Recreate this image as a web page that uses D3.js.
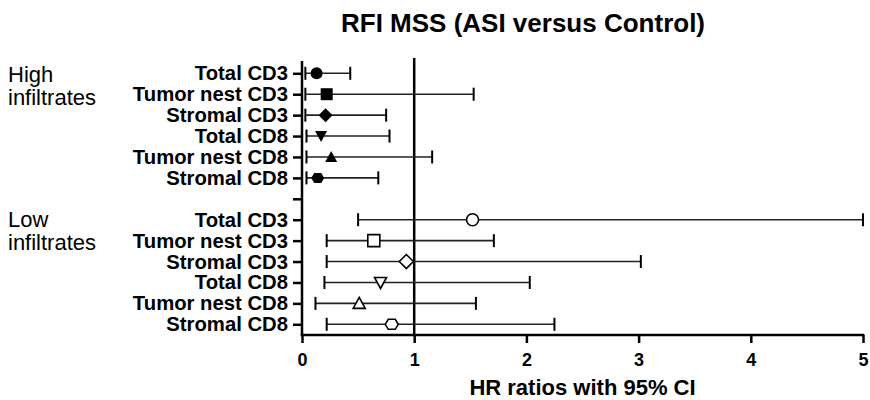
<!DOCTYPE html>
<html>
<head>
<meta charset="utf-8">
<script src="https://cdn.jsdelivr.net/npm/d3@7"></script>
<style>
  body { margin: 0; background: #fff; }
  svg { font-family: "Liberation Sans", Arial, sans-serif; }
</style>
</head>
<body>
<div id="chart"></div>
<script>
// rows, top to bottom, for each group
var rowLabels = ["Total CD3", "Tumor nest CD3", "Stromal CD3", "Total CD8", "Tumor nest CD8", "Stromal CD8"];
var groupLabels = ["High infiltrates", "Low infiltrates"];

// hazard ratios with 95% CI, high infiltrates
var highHR    = [0.13, 0.22, 0.21, 0.17, 0.26, 0.14];
var highLower = [0.03, 0.03, 0.03, 0.04, 0.04, 0.04];
var highUpper = [0.43, 1.53, 0.75, 0.78, 1.16, 0.68];

// low infiltrates
var lowHR    = [1.52, 0.64, 0.93, 0.70, 0.51, 0.80];
var lowLower = [0.50, 0.22, 0.22, 0.20, 0.12, 0.22];
var lowUpper = [5.00, 1.71, 3.02, 2.03, 1.55, 2.25];

var xTicks = [0, 1, 2, 3, 4, 5];

var width = 870, height = 400;
var shapes = ["circle", "square", "diamond", "triDown", "triUp", "hex"];

var rows = [];
rowLabels.forEach(function(l, i) {
    rows.push({key: "h" + i, label: l, hr: highHR[i], lo: highLower[i], hi: highUpper[i], shape: shapes[i], filled: true});
});
rows.push({key: "gap", label: ""});
rowLabels.forEach(function(l, i) {
    rows.push({key: "l" + i, label: l, hr: lowHR[i], lo: lowLower[i], hi: lowUpper[i], shape: shapes[i], filled: false});
});

var svg = d3.select("#chart").append("svg")
    .attr("width", width)
    .attr("height", height);

var x = d3.scaleLinear().domain([0, 5]).range([302, 863]);
var y = d3.scalePoint().domain(rows.map(function(d) { return d.key; })).range([73.3, 324.3]);

var plotTop = 61, plotBottom = 335;

// title
svg.append("text")
    .attr("x", 523).attr("y", 32)
    .attr("text-anchor", "middle")
    .attr("font-size", 26).attr("font-weight", "bold")
    .text("RFI MSS (ASI versus Control)");

// group labels, two lines each
groupLabels.forEach(function(g, i) {
    var words = g.split(" ");
    var t = svg.append("text")
        .attr("x", 8)
        .attr("y", i === 0 ? 82 : 227)
        .attr("font-size", 22);
    words.forEach(function(w, j) {
        t.append("tspan").attr("x", 8).attr("dy", j === 0 ? 0 : 23).text(w);
    });
});

// y axis with row labels
var yAxis = svg.append("g")
    .attr("transform", "translate(" + x(0) + ",0)")
    .call(d3.axisLeft(y).tickSize(9).tickPadding(5)
        .tickFormat(function(k) { return rows.find(function(r) { return r.key === k; }).label; }));
yAxis.select(".domain").remove();
yAxis.selectAll(".tick line").attr("stroke", "#000").attr("stroke-width", 2.5);
yAxis.selectAll(".tick text")
    .attr("font-size", 20.3).attr("font-weight", "bold")
    .attr("font-family", "'Liberation Sans', Arial, sans-serif")
    .attr("fill", "#000");

// x axis
var xAxis = svg.append("g")
    .attr("transform", "translate(0," + plotBottom + ")")
    .call(d3.axisBottom(x).tickValues(xTicks).tickSize(8).tickPadding(10).tickFormat(d3.format("d")));
xAxis.select(".domain").remove();
xAxis.selectAll(".tick line").attr("stroke", "#000").attr("stroke-width", 2.5);
xAxis.selectAll(".tick text")
    .attr("font-size", 18).attr("font-weight", "bold")
    .attr("font-family", "'Liberation Sans', Arial, sans-serif")
    .attr("fill", "#000");

// axis lines
svg.append("line")
    .attr("x1", x(0)).attr("x2", x(0))
    .attr("y1", plotTop).attr("y2", plotBottom + 1.25)
    .attr("stroke", "#000").attr("stroke-width", 2.5);
svg.append("line")
    .attr("x1", x(0) - 1.25).attr("x2", x(5) + 1.25)
    .attr("y1", plotBottom).attr("y2", plotBottom)
    .attr("stroke", "#000").attr("stroke-width", 2.5);

// x axis title
svg.append("text")
    .attr("x", (x(0) + x(5)) / 2).attr("y", 395)
    .attr("text-anchor", "middle")
    .attr("font-size", 22).attr("font-weight", "bold")
    .text("HR ratios with 95% CI");

// reference line at HR = 1
svg.append("line")
    .attr("x1", x(1)).attr("x2", x(1))
    .attr("y1", 58).attr("y2", plotBottom)
    .attr("stroke", "#000").attr("stroke-width", 2.5);

// confidence intervals
var data = rows.filter(function(d) { return d.key !== "gap"; });
var ci = svg.append("g").selectAll("g")
    .data(data)
    .enter()
    .append("g")
    .attr("transform", function(d) { return "translate(0," + y(d.key) + ")"; });

ci.append("line")
    .attr("x1", function(d) { return x(d.lo); })
    .attr("x2", function(d) { return x(d.hi); })
    .attr("stroke", "#222").attr("stroke-width", 1.6);

ci.selectAll(".cap")
    .data(function(d) { return [d.lo, d.hi]; })
    .enter()
    .append("line")
    .classed("cap", true)
    .attr("x1", function(v) { return x(v); })
    .attr("x2", function(v) { return x(v); })
    .attr("y1", -6.5).attr("y2", 6.5)
    .attr("stroke", "#000").attr("stroke-width", 2);

// markers
function shapePath(s) {
    if (s === "square") return "M-6,-6H6V6H-6Z";
    if (s === "diamond") return "M0,-7L7,0L0,7L-7,0Z";
    if (s === "triDown") return "M-6,-5H6L0,6Z";
    if (s === "triUp") return "M0,-6L6,5H-6Z";
    if (s === "hex") return "M-6.5,0L-3.5,-5H3.5L6.5,0L3.5,5H-3.5Z";
    return "M-6,0A6,6 0 1,0 6,0A6,6 0 1,0 -6,0Z";
}

ci.append("path")
    .attr("transform", function(d) { return "translate(" + x(d.hr) + ",0)"; })
    .attr("d", function(d) { return shapePath(d.shape); })
    .attr("fill", function(d) { return d.filled ? "#000" : "#fff"; })
    .attr("stroke", "#000")
    .attr("stroke-width", function(d) { return d.filled ? 0 : 1.6; });
</script>
</body>
</html>
